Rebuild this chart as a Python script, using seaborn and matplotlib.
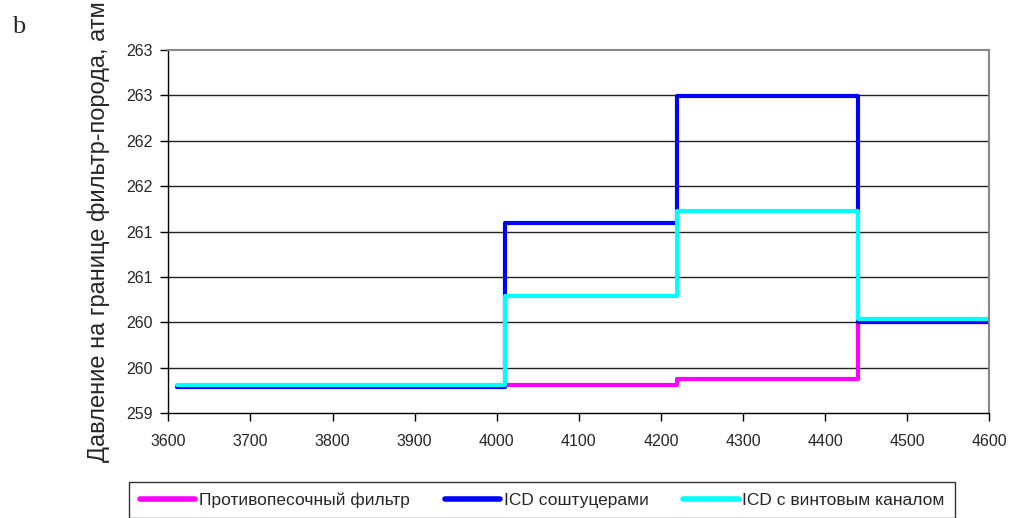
import matplotlib
matplotlib.use("Agg")
import matplotlib.pyplot as plt
import seaborn as sns
import pandas as pd

# Depth along the well (segment boundaries) and pressure on each segment
depth = [3610, 4010, 4220, 4440, 4600]
p_sand_filter = [259.30, 259.31, 259.38, 260.00, 260.00]
p_icd_nozzle = [259.29, 261.10, 262.49, 260.00, 260.00]
p_icd_helix = [259.31, 260.29, 261.23, 260.04, 260.04]

series_names = ["Противопесочный фильтр", "ICD соштуцерами", "ICD с винтовым каналом"]
series_colors = ["#ff00ff", "#0000ff", "#00ffff"]

x_ticks = [3600, 3700, 3800, 3900, 4000, 4100, 4200, 4300, 4400, 4500, 4600]
y_ticks = [259.0, 259.5, 260.0, 260.5, 261.0, 261.5, 262.0, 262.5, 263.0]
y_tick_labels = ["259", "260", "260", "261", "261", "262", "262", "263", "263"]

df = pd.concat([
    pd.DataFrame({"depth": depth, "pressure": vals, "series": name})
    for name, vals in zip(series_names, [p_sand_filter, p_icd_nozzle, p_icd_helix])
], ignore_index=True)

sns.set_style("white")
plt.rcParams["font.family"] = ["Liberation Sans", "DejaVu Sans"]

fig = plt.figure(figsize=(10.16, 5.18), dpi=100)
ax = fig.add_axes([0.1657, 0.2021, 0.8080, 0.7014])

sns.lineplot(
    data=df, x="depth", y="pressure", hue="series",
    hue_order=series_names, palette=dict(zip(series_names, series_colors)),
    drawstyle="steps-post", linewidth=3.0, ax=ax, legend=False,
    solid_capstyle="round", solid_joinstyle="round", estimator=None, sort=False,
)

ax.set_xlim(3600, 4600)
ax.set_ylim(259, 263)
ax.set_xticks(x_ticks)
ax.set_yticks(y_ticks)
ax.set_yticklabels(y_tick_labels)
ax.tick_params(axis="both", direction="out", length=6, width=1, color="black",
               labelsize=11.5, left=True, bottom=True)
ax.tick_params(axis="y", pad=5)
ax.tick_params(axis="x", pad=9)

for y in y_ticks[1:-1]:
    ax.axhline(y, color="#222222", linewidth=1.0, zorder=0.5)

for side in ["left", "bottom"]:
    ax.spines[side].set_color("black")
    ax.spines[side].set_linewidth(1.0)
for side in ["top", "right"]:
    ax.spines[side].set_color("#888888")
    ax.spines[side].set_linewidth(1.5)

ax.set_xlabel("")
ax.set_ylabel("Давление на границе фильтр-порода, атм", fontsize=17)
ax.yaxis.set_label_coords(-0.071, 0.50)

handles = [plt.Line2D([], [], color=c, linewidth=4, solid_capstyle="round")
           for c in series_colors]
leg = fig.legend(
    handles, series_names, loc="upper left",
    bbox_to_anchor=(0.1273, -0.05, 0.8129, 0.12), mode="expand", ncol=3,
    fontsize=12.5, frameon=True, fancybox=False, edgecolor="black",
    handlelength=3.2, handletextpad=0.2, borderpad=0.6, borderaxespad=0,
    columnspacing=0.5,
)
leg.get_frame().set_linewidth(1.0)

fig.text(12 / 1016, 1 - 27 / 518, "b", fontsize=19, family="Liberation Serif",
         va="center", ha="left")

fig.savefig("out.png", dpi=100)
